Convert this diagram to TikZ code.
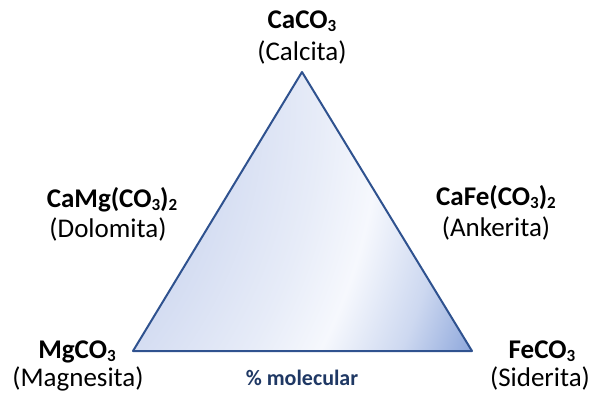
\documentclass[tikz,border=0pt]{standalone}
\usepackage{fontspec}
\setmainfont{Carlito}
\definecolor{edgeblue}{RGB}{47,82,143}
\definecolor{navy}{RGB}{31,56,100}
\definecolor{gA}{RGB}{210,219,241}
\definecolor{gM}{RGB}{231,236,248}
\definecolor{gW}{RGB}{246,248,253}
\definecolor{gD}{RGB}{205,216,240}
\definecolor{gC}{RGB}{140,166,219}
\pgfdeclareradialshading{trishade}{\pgfpoint{0bp}{0bp}}{color(0bp)=(gA); color(13.5bp)=(gA); color(17.4bp)=(gM); color(19.6bp)=(gW); color(22.2bp)=(gD); color(24.6bp)=(gC); color(50bp)=(gC)}
\newcommand{\subs}[1]{\raisebox{-0.13em}{\fontsize{17}{17}\selectfont #1}}
\tikzset{
  formula/.style={anchor=base, inner sep=0pt, text depth=2pt, font=\fontsize{27}{32}\selectfont\bfseries, text=black},
  mineral/.style={anchor=base, inner sep=0pt, text height=16pt, font=\fontsize{27}{32}\selectfont, text=black},
  axislabel/.style={anchor=base, inner sep=0pt, text height=14pt, font=\fontsize{22}{26}\selectfont\bfseries, text=navy},
  triangle/.style={draw=edgeblue, line width=2pt, line join=round}
}
\begin{document}
\begin{tikzpicture}[x=1pt,y=-1pt]
\useasboundingbox (0,0) rectangle (598,400);
\coordinate (top) at (302,72);
\coordinate (left) at (133,351);
\coordinate (right) at (472,351);
\coordinate (gcenter) at (-168,100);
\begin{scope}
  \clip (top) -- (left) -- (right) -- cycle;
  \shade[shading=trishade] (gcenter) circle (700);
\end{scope}
\path[triangle] (top) -- (left) -- (right) -- cycle;
\node[formula] (caco3) at (302,28) {CaCO\subs{3}};
\node[mineral] (calcita) at (302,60) {(Calcita)};
\node[formula] (camg) at (112,207) {CaMg(CO\subs{3})\subs{2}};
\node[mineral] (dolomita) at (108,237) {(Dolomita)};
\node[formula] (cafe) at (496,205) {CaFe(CO\subs{3})\subs{2}};
\node[mineral] (ankerita) at (496,236) {(Ankerita)};
\node[formula] (mgco3) at (77,358) {MgCO\subs{3}};
\node[mineral] (magnesita) at (78,386) {(Magnesita)};
\node[formula] (feco3) at (542,358) {FeCO\subs{3}};
\node[mineral] (siderita) at (540,386) {(Siderita)};
\node[axislabel] (molecular) at (302,385) {\% molecular};
\end{tikzpicture}
\end{document}
